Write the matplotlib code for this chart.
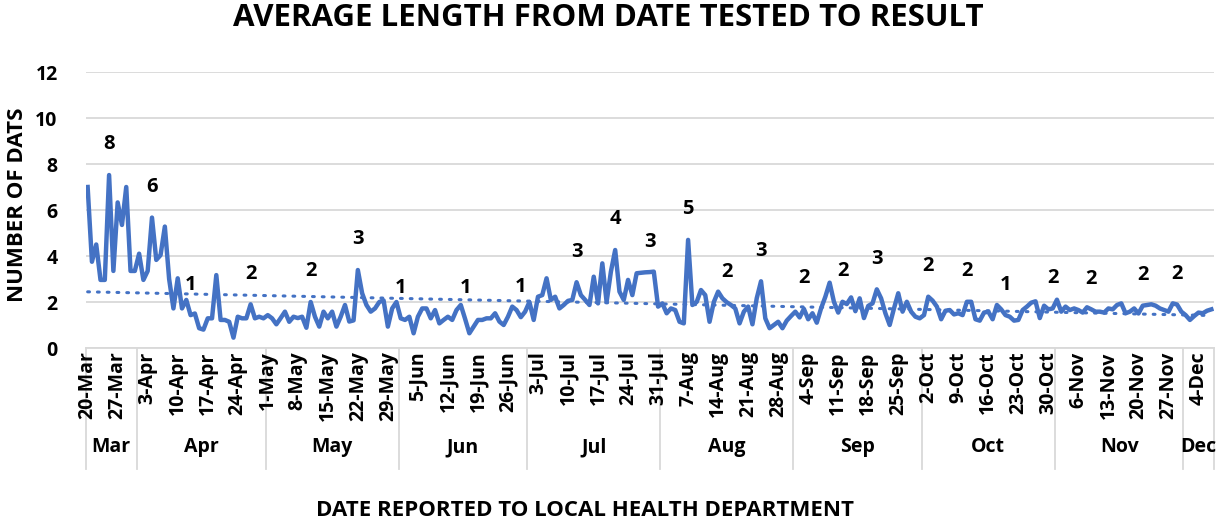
import numpy as np
import pandas as pd
import matplotlib
matplotlib.use("Agg")
import matplotlib.pyplot as plt
import matplotlib.transforms as mtransforms

# ---------------- data ----------------
start_date = "2020-03-20"

avg_days = [
    7.0, 3.75, 4.5, 2.96, 2.96, 7.52, 3.35, 6.33, 5.35, 7.0,
    3.35, 3.35, 4.1, 2.96, 3.35, 5.67, 3.83, 4.04, 5.28, 3.0,
    1.72, 3.03, 1.72, 2.09, 1.43, 1.5, 0.86, 0.8, 1.29, 1.29,
    3.17, 1.22, 1.22, 1.14, 0.45, 1.36, 1.29, 1.29, 1.9, 1.29,
    1.36, 1.29, 1.43, 1.29, 1.03, 1.3, 1.58, 1.14, 1.36, 1.3,
    1.36, 0.88, 2.0, 1.36, 0.93, 1.58, 1.29, 1.58, 0.93, 1.36,
    1.87, 1.15, 1.2, 3.39, 2.38, 1.87, 1.58, 1.72, 2.0, 2.07,
    0.93, 1.72, 2.0, 1.29, 1.22, 1.36, 0.64, 1.36, 1.72, 1.72,
    1.29, 1.65, 1.07, 1.22, 1.36, 1.22, 1.65, 1.87, 1.27, 0.64,
    0.93, 1.22, 1.22, 1.29, 1.29, 1.51, 1.15, 1.0, 1.36, 1.8,
    1.65, 1.34, 1.58, 2.0, 1.22, 2.23, 2.3, 3.03, 2.09, 2.23,
    1.72, 1.87, 2.05, 2.09, 2.86, 2.3, 2.09, 1.87, 3.1, 1.94,
    3.68, 2.0, 3.32, 4.26, 2.45, 2.09, 2.96, 2.3, 3.25, 3.27,
    3.29, 3.3, 3.32, 1.8, 1.94, 1.51, 1.72, 1.65, 1.14, 1.07,
    4.7, 1.87, 2.0, 2.52, 2.3, 1.14, 2.0, 2.45, 2.16, 1.99,
    1.87, 1.72, 1.07, 1.58, 1.8, 1.03, 2.16, 2.9, 1.29, 0.86,
    1.0, 1.14, 0.86, 1.19, 1.39, 1.58, 1.33, 1.7, 1.25, 1.51,
    1.1, 1.72, 2.23, 2.84, 2.01, 1.54, 2.01, 1.91, 2.2, 1.6,
    2.16, 1.3, 1.83, 1.94, 2.55, 2.16, 1.51, 1.0, 1.72, 2.38,
    1.58, 2.01, 1.58, 1.36, 1.29, 1.43, 2.23, 2.06, 1.8, 1.25,
    1.62, 1.65, 1.46, 1.51, 1.43, 2.01, 2.01, 1.25, 1.19, 1.54,
    1.58, 1.25, 1.87, 1.68, 1.43, 1.36, 1.19, 1.22, 1.65, 1.8,
    1.97, 2.03, 1.3, 1.84, 1.68, 1.72, 2.1, 1.58, 1.8, 1.65,
    1.72, 1.65, 1.54, 1.77, 1.68, 1.58, 1.58, 1.54, 1.72, 1.68,
    1.87, 1.94, 1.51, 1.58, 1.72, 1.5, 1.84, 1.87, 1.9, 1.84,
    1.72, 1.65, 1.58, 1.94, 1.89, 1.58, 1.43, 1.22, 1.39, 1.54,
    1.51, 1.62, 1.68,
]

label_days = [5, 15, 24, 38, 52, 63, 73, 88, 101, 114, 123, 131, 140,
              149, 157, 167, 176, 184, 196, 205, 214, 225, 234, 246, 254]

title_text = "AVERAGE LENGTH FROM DATE TESTED TO RESULT"
y_title = "NUMBER OF DATS"
x_title = "DATE REPORTED TO LOCAL HEALTH DEPARTMENT"
y_ticks = [0, 2, 4, 6, 8, 10, 12]

# ---------------- derived ----------------
dates = pd.date_range(start_date, periods=len(avg_days), freq="D")
idx = np.arange(len(avg_days))
vals = np.array(avg_days)

FONT = ["Open Sans", "DejaVu Sans"]
plt.rcParams["font.family"] = FONT
plt.rcParams["font.weight"] = "bold"
BLUE = "#4472C4"
GRID = "#D9D9D9"

fig = plt.figure(figsize=(12.17, 5.24), dpi=100)
W, H = 1217, 524
ax_left, ax_right, ax_top, ax_bottom = 85.5, 1213.5, 72, 348
ax = fig.add_axes([ax_left / W, 1 - ax_bottom / H,
                   (ax_right - ax_left) / W, (ax_bottom - ax_top) / H])

ax.set_xlim(-0.5, len(avg_days) - 0.5)
ax.set_ylim(0, 12)
ax.set_yticks(y_ticks)
ax.set_yticklabels([str(t) for t in y_ticks], fontweight="bold", fontsize=14)
ax.tick_params(axis="y", length=0, pad=20)
ax.grid(axis="y", color=GRID, linewidth=1.3)
ax.set_axisbelow(True)
for s in ["left", "right", "top"]:
    ax.spines[s].set_visible(False)
ax.spines["bottom"].set_color(GRID)
ax.spines["bottom"].set_linewidth(1.3)

# main line
ax.plot(idx, vals, color=BLUE, linewidth=3.2, solid_joinstyle="round",
        zorder=3)

# linear trendline
coef = np.polyfit(idx, vals, 1)
ax.plot(idx, np.polyval(coef, idx), color=BLUE, linewidth=2.2,
        linestyle=(0, (0.6, 2.6)), dash_capstyle="round", zorder=2)

# data labels
for d in label_days:
    ax.annotate(f"{int(round(vals[d]))}", xy=(d, vals[d]), xytext=(0, 22),
                textcoords="offset points", ha="center", va="center",
                fontweight="bold", fontsize=14.5, zorder=4)

# date tick labels every 7 days
trans = mtransforms.blended_transform_factory(ax.transData, ax.transAxes)
ax.set_xticks([])
for i in idx[::7]:
    ax.text(i, -0.012, f"{dates[i].day}-{dates[i].strftime('%b')}",
            transform=trans, rotation=90, rotation_mode="anchor",
            ha="right", va="center", fontweight="bold", fontsize=14,
            clip_on=False)

# month grouping
months = pd.Series(idx, index=dates).groupby(dates.to_period("M"))
bounds = [-0.5]
for per, grp in months:
    lo, hi = grp.min() - 0.5, grp.max() + 0.5
    bounds.append(hi)
    ax.text((lo + hi) / 2, -0.36, per.strftime("%b"), transform=trans,
            ha="center", va="center", fontweight="bold",
            fontsize=14, clip_on=False)
for b in bounds:
    ax.plot([b, b], [0, -0.44], transform=trans, color=GRID, linewidth=1.3,
            clip_on=False)

fig.text(0.5, 1 - 18 / H, title_text, ha="center", va="center",
         fontweight="bold", fontsize=22.5)
fig.text(18 / W, 1 - 205 / H, y_title, rotation=90, ha="center", va="center",
         fontweight="bold", fontsize=16)
fig.text(585 / W, 1 - 510 / H, x_title, ha="center", va="center",
         fontweight="bold", fontsize=16)

fig.savefig("out.png", dpi=100)
